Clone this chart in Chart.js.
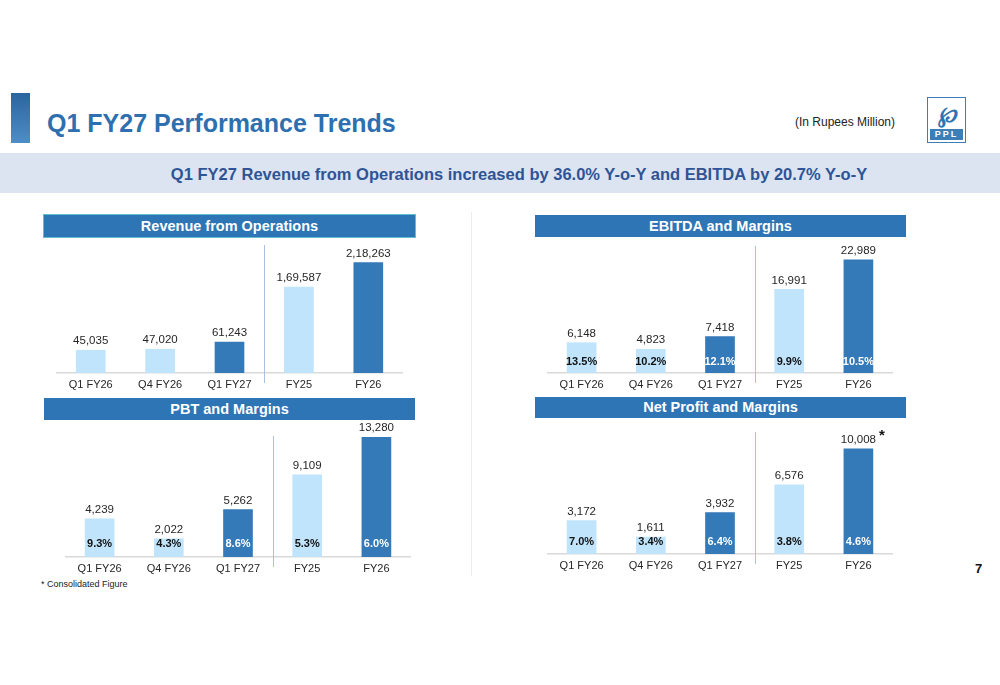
<!DOCTYPE html>
<html>
<head>
<meta charset="utf-8">
<script src="https://cdn.jsdelivr.net/npm/chart.js@4.4.1/dist/chart.umd.min.js"></script>
<style>
  body { margin: 0; width: 1000px; height: 685px; background: #fff; position: relative; overflow: hidden;
         font-family: "Liberation Sans", Arial, sans-serif; }
  .abs { position: absolute; }
  .accent { left: 11px; top: 93px; width: 19px; height: 50px; background: linear-gradient(#2b659f, #4e8dc7); }
  .title { left: 47px; top: 109px; font-size: 25px; font-weight: bold; color: #2e6fb0; white-space: nowrap; }
  .unit { left: 795px; top: 115px; font-size: 12px; color: #222; white-space: nowrap; }
  .logo { left: 927px; top: 97px; width: 37px; height: 44px; border: 1px solid #3c7fb8; background: #fff; }
  .logo .mark { position: absolute; left: 3px; top: 3px; width: 31px; height: 27px; font: italic bold 22px "DejaVu Serif", serif;
                color: #2f73b0; text-align: center; line-height: 27px; }
  .logo .ppl { position: absolute; left: 2px; bottom: 2px; width: 33px; height: 11px; background: #3c7fb8; color: #fff;
               font: bold 9px "Liberation Sans", Arial, sans-serif; text-align: center; line-height: 11px; letter-spacing: 2px; }
  .banner { left: 0; top: 153px; width: 962px; padding-left: 38px; height: 40px; background: #dce4f2; color: #2f5496; font-size: 16.5px;
            font-weight: bold; text-align: center; line-height: 42px; white-space: nowrap; }
  .head { height: 22px; background: #2e75b6; color: #fff; font-size: 14.5px; font-weight: bold; text-align: center; line-height: 22px; }
  .sep { left: 471px; top: 212px; width: 1px; height: 364px; background: #ececec; }
  .note { left: 41px; top: 579px; font-size: 9px; color: #222; }
  .page { left: 975px; top: 561px; font-size: 13px; font-weight: bold; color: #111; }
  .star { left: 879px; top: 426px; font-size: 15px; font-weight: bold; color: #111; }
</style>
</head>
<body>
<div class="abs accent"></div>
<div class="abs title">Q1 FY27 Performance Trends</div>
<div class="abs unit">(In Rupees Million)</div>
<div class="abs logo"><div class="mark">&#8472;</div><div class="ppl">PPL</div></div>
<div class="abs banner">Q1 FY27 Revenue from Operations increased by 36.0% Y-o-Y and EBITDA by 20.7% Y-o-Y</div>
<div class="abs sep"></div>

<div class="abs head" style="left:44px;top:215px;width:371px;box-shadow:0 0 0 1px #63bccf;">Revenue from Operations</div>
<div class="abs head" style="left:535px;top:215px;width:371px;">EBITDA and Margins</div>
<div class="abs head" style="left:44px;top:398px;width:371px;">PBT and Margins</div>
<div class="abs head" style="left:535px;top:397px;width:371px;height:21px;line-height:21px;">Net Profit and Margins</div>

<canvas id="rev" class="abs" width="347" height="157" style="left:56px;top:238px;"></canvas>
<canvas id="ebitda" class="abs" width="346" height="157" style="left:547px;top:238px;"></canvas>
<canvas id="pbt" class="abs" width="346" height="158" style="left:65px;top:421px;"></canvas>
<canvas id="np" class="abs" width="346" height="156" style="left:547px;top:420px;"></canvas>

<div class="abs star">*</div>
<div class="abs note">* Consolidated Figure</div>
<div class="abs page">7</div>

<script>
const categories = ['Q1 FY26', 'Q4 FY26', 'Q1 FY27', 'FY25', 'FY26'];
const revenue = [45035, 47020, 61243, 169587, 218263];
const ebitda = [6148, 4823, 7418, 16991, 22989];
const ebitdaMargin = [13.5, 10.2, 12.1, 9.9, 10.5];
const pbt = [4239, 2022, 5262, 9109, 13280];
const pbtMargin = [9.3, 4.3, 8.6, 5.3, 6.0];
const netProfit = [3172, 1611, 3932, 6576, 10008];
const netMargin = [7.0, 3.4, 6.4, 3.8, 4.6];
// which bars are the current period (dark)
const highlight = [false, false, true, false, true];

const LIGHT = '#bfe4fb';
const DARK = '#3479b8';

Chart.defaults.font.family = '"Liberation Sans", Arial, sans-serif';

// indian digit grouping, e.g. 2,18,263
function fmtIN(n) {
  const s = String(n);
  if (s.length <= 3) return s;
  let last3 = s.slice(-3);
  let rest = s.slice(0, -3);
  rest = rest.replace(/\B(?=(\d{2})+(?!\d))/g, ',');
  return rest + ',' + last3;
}

const barLabels = {
  id: 'barLabels',
  afterDatasetsDraw(chart, args, opts) {
    const ctx = chart.ctx;
    const meta = chart.getDatasetMeta(0);
    const values = chart.data.datasets[0].data;
    const area = chart.chartArea;
    ctx.save();
    ctx.textAlign = 'center';
    ctx.textBaseline = 'middle';
    meta.data.forEach((bar, i) => {
      ctx.font = '11.5px "Liberation Sans", Arial, sans-serif';
      ctx.fillStyle = '#262626';
      ctx.fillText(fmtIN(values[i]), bar.x, bar.y - 9);
      if (opts.margins) {
        ctx.font = 'bold 11px "Liberation Sans", Arial, sans-serif';
        ctx.fillStyle = highlight[i] ? '#ffffff' : '#111111';
        ctx.fillText(opts.margins[i].toFixed(1) + '%', bar.x, area.bottom - opts.offset);
      }
    });
    // divider between quarters and full years
    const x = Math.round((meta.data[2].x + meta.data[3].x) / 2) + 0.5;
    ctx.strokeStyle = '#a9c0e0';
    ctx.lineWidth = 1;
    ctx.beginPath();
    ctx.moveTo(x, area.top);
    ctx.lineTo(x, area.bottom + 10);
    ctx.stroke();
    ctx.restore();
  }
};

function makeChart(id, values, yMax, padTop, margins, offset) {
  return new Chart(document.getElementById(id), {
    type: 'bar',
    data: {
      labels: categories,
      datasets: [{
        data: values,
        backgroundColor: highlight.map(h => h ? DARK : LIGHT),
        barThickness: 29,
        borderWidth: 0
      }]
    },
    options: {
      responsive: false,
      animation: false,
      layout: { padding: { top: padTop, left: 0, right: 0, bottom: 0 } },
      plugins: {
        legend: { display: false },
        tooltip: { enabled: false },
        barLabels: { margins: margins, offset: offset }
      },
      scales: {
        x: {
          grid: { display: false, drawTicks: false },
          border: { display: true, color: '#d9d9d9', width: 1.5 },
          ticks: { color: '#262626', font: { size: 11 }, padding: 5 },
          afterFit: (scale) => { scale.height = 22; }
        },
        y: { display: false, min: 0, max: yMax }
      }
    },
    plugins: [barLabels]
  });
}

makeChart('rev', revenue, 253000, 7, null, 0);
makeChart('ebitda', ebitda, 25800, 8, ebitdaMargin, 11);
makeChart('pbt', pbt, 13420, 15, pbtMargin, 13);
makeChart('np', netProfit, 11600, 12, netMargin, 12);
</script>
</body>
</html>
